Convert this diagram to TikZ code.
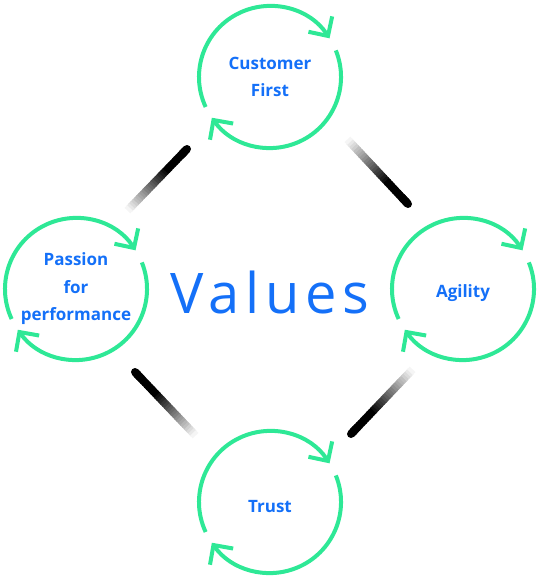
\documentclass[tikz,border=0pt]{standalone}
\usepackage{fontspec}
\setmainfont{Open Sans}
\newfontfamily\valuesfont[LetterSpace=10]{Open Sans}
\usetikzlibrary{arrows.meta,calc}
\definecolor{ringgreen}{HTML}{2EE896}
\definecolor{valueblue}{HTML}{1470F8}
% black at #1, fading out towards #2
\newcommand{\fadelink}[2]{%
  \draw[link,line cap=round] (#1) -- ($(#1)!0.1!(#2)$);
  \foreach \k in {0,...,29}{
    \pgfmathtruncatemacro{\shadepct}{min(100,(30-\k)/20*100)}
    \draw[link,black!\shadepct] ($(#1)!{\k/30}!(#2)$) -- ($(#1)!{(\k+1.3)/30}!(#2)$);
  }}
\begin{document}
\begin{tikzpicture}[x=1pt,y=1pt,
  value/.style={circle,minimum size=142pt,inner sep=0pt,outer sep=0pt,align=center,
    text=valueblue,font=\bfseries\fontsize{17}{27.5}\selectfont},
  ring/.style={ringgreen,line width=4pt,-{Straight Barb[angle=90:20pt]}},
  link/.style={line width=8pt}]
\useasboundingbox (0,0) rectangle (540,-580);
\node[value] (first) at (270,-77) {Customer\\First};
\node[value] (passion) at (76,-289) {Passion\\for\\performance};
\node[value] (agility) at (463,-289) {\raisebox{-4pt}[\height][\depth]{Agility}};
\node[value] (trust) at (270,-502) {\raisebox{-5pt}[\height][\depth]{Trust}};
\node[text=valueblue,font=\valuesfont\fontsize{56}{60}\selectfont] (values) at (270,-292) {Values};
\foreach \n in {first,passion,agility,trust}{
  \draw[ring] (\n.205) arc[start angle=205,end angle=33,radius=71pt];
  \draw[ring] (\n.22) arc[start angle=22,end angle=-145,radius=71pt];
}
\coordinate (tlA) at (187,-149); \coordinate (tlB) at (128,-210);
\coordinate (trA) at (408,-204); \coordinate (trB) at (348,-140);
\coordinate (brA) at (351,-434); \coordinate (brB) at (412,-370);
\coordinate (blA) at (135,-372); \coordinate (blB) at (195,-435);
\fadelink{tlA}{tlB}
\fadelink{trA}{trB}
\fadelink{brA}{brB}
\fadelink{blA}{blB}
\end{tikzpicture}
\end{document}
